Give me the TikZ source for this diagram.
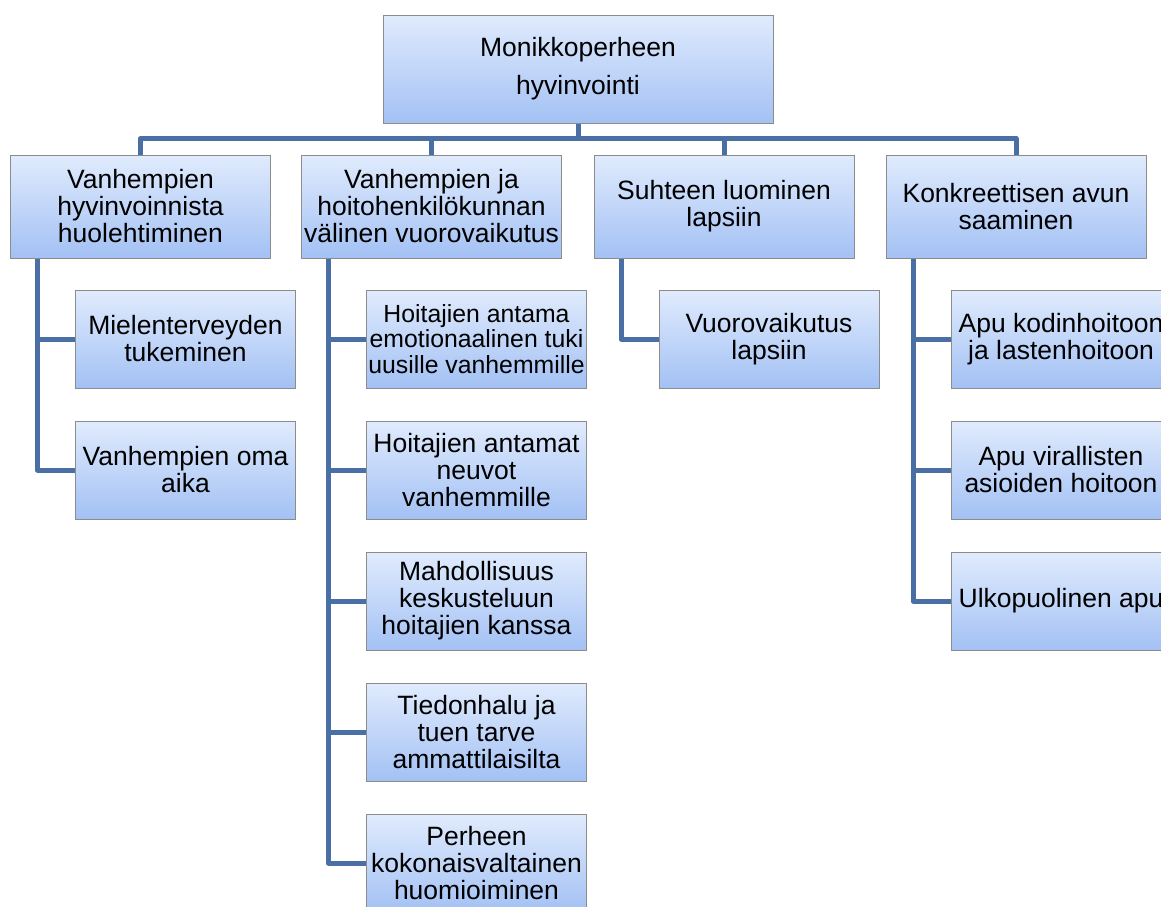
\documentclass[tikz,border=0pt]{standalone}
\usepackage{fontspec}
\setmainfont{Liberation Sans}
\usetikzlibrary{positioning,backgrounds}
\definecolor{boxtop}{HTML}{E0EBFD}
\definecolor{boxbot}{HTML}{A3C1F4}
\definecolor{boxline}{HTML}{8C8C8C}
\definecolor{link}{HTML}{4A6FA5}

\tikzset{
  box/.style={draw=boxline, line width=1pt, top color=boxtop, bottom color=boxbot,
    align=center, inner sep=0pt, font=\fontsize{26.5}{27}\selectfont},
  mainbox/.style={box, minimum width=390pt, minimum height=108pt},
  catbox/.style={box, minimum width=260pt, minimum height=103pt},
  subbox/.style={box, minimum width=220pt, minimum height=98pt},
  conn/.style={draw=link, line width=5pt, line join=round},
}

\begin{document}
\begin{tikzpicture}[x=1pt, y=-1pt]
  \useasboundingbox (0,0) rectangle (1161,906);
  \clip (0,0) rectangle (1161,906);
  % root
  \node[mainbox] (top) at (578,69) {Monikkoperheen\\[11pt]hyvinvointi};
  % categories
  \node[catbox] (lvA) at (140.5,206.5) {Vanhempien\\hyvinvoinnista\\huolehtiminen};
  \node[catbox] (lvB) at (431.5,206.5) {Vanhempien ja\\hoitohenkilökunnan\\välinen vuorovaikutus};
  \node[catbox] (lvC) at (724,206.5) {Suhteen luominen\\lapsiin};
  \node[catbox] (lvD) at (1016,206.5) {Konkreettisen avun\\saaminen};
  % A children
  \node[subbox, below=31pt of lvA, xshift=45pt] (a1) {Mielenterveyden\\tukeminen};
  \node[subbox, below=32pt of a1] (a2) {Vanhempien oma\\aika};
  % B children
  \node[subbox, below=31pt of lvB, xshift=45pt, font=\fontsize{24.8}{25.5}\selectfont] (b1)
    {Hoitajien antama\\emotionaalinen tuki\\uusille vanhemmille};
  \node[subbox, below=32pt of b1] (b2) {Hoitajien antamat\\neuvot\\vanhemmille};
  \node[subbox, below=32pt of b2] (b3) {Mahdollisuus\\keskusteluun\\hoitajien kanssa};
  \node[subbox, below=32pt of b3] (b4) {Tiedonhalu ja\\tuen tarve\\ammattilaisilta};
  \node[subbox, below=32pt of b4] (b5) {Perheen\\kokonaisvaltainen\\huomioiminen};
  % C children
  \node[subbox, below=31pt of lvC, xshift=45pt] (c1) {Vuorovaikutus\\lapsiin};
  % D children
  \node[subbox, below=31pt of lvD, xshift=45pt] (d1) {Apu kodinhoitoon\\ja lastenhoitoon};
  \node[subbox, below=32pt of d1] (d2) {Apu virallisten\\asioiden hoitoon};
  \node[subbox, below=32pt of d2] (d3) {Ulkopuolinen apu};
  % connectors
  \begin{scope}[on background layer]
    \foreach \n in {lvA,lvB,lvC,lvD}
      \draw[conn] (top.south) -- ++(0,15) -| (\n.north);
    \foreach \c in {a1,a2}
      \draw[conn] ([xshift=27.5pt]lvA.south west) |- (\c.west);
    \foreach \c in {b1,b2,b3,b4,b5}
      \draw[conn] ([xshift=27.5pt]lvB.south west) |- (\c.west);
    \draw[conn] ([xshift=27.5pt]lvC.south west) |- (c1.west);
    \foreach \c in {d1,d2,d3}
      \draw[conn] ([xshift=27.5pt]lvD.south west) |- (\c.west);
  \end{scope}
\end{tikzpicture}
\end{document}
